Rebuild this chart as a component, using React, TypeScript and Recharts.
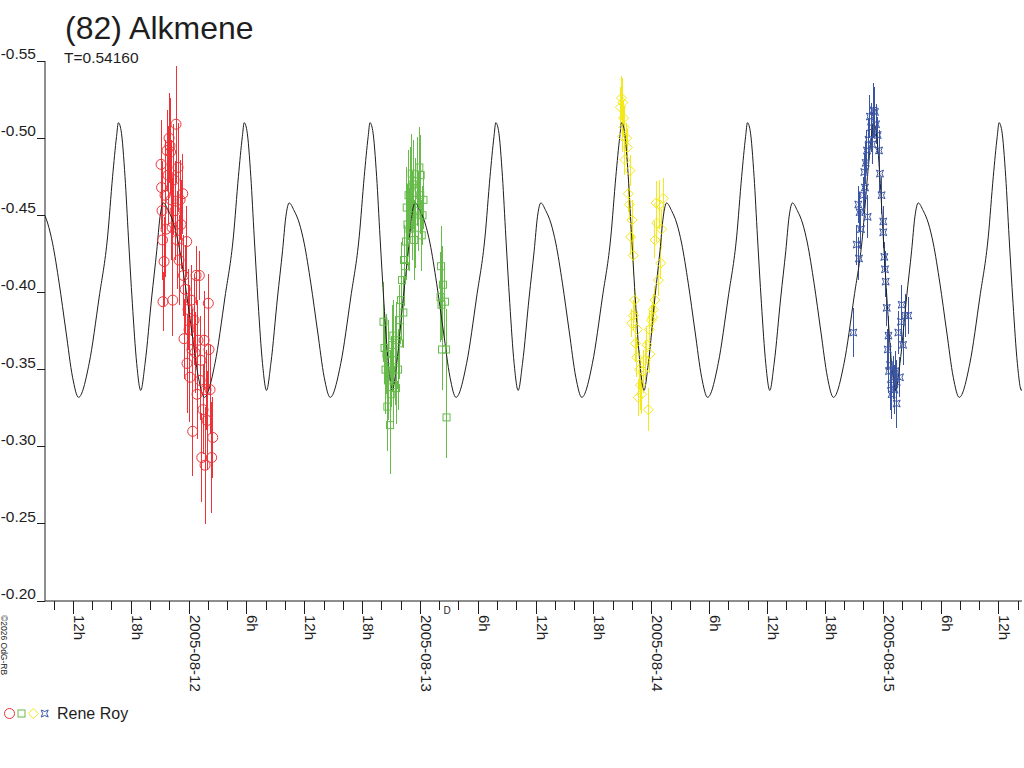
import React from 'react';
import { ComposedChart, Line, Scatter, ErrorBar, XAxis, YAxis } from 'recharts';

// hours since 2005-08-12 00:00 UT, magnitude, error (one list per night)
const night1: number[][] = [
    [-2.90, -0.483, 0.029], [-2.85, -0.468, 0.027], [-2.80, -0.453, 0.032], [-2.75, -0.434, 0.026],
    [-2.70, -0.394, 0.019], [-2.59, -0.420, 0.029], [-2.49, -0.463, 0.036], [-2.39, -0.441, 0.031],
    [-2.28, -0.492, 0.026], [-2.18, -0.476, 0.032], [-2.07, -0.500, 0.029], [-1.97, -0.495, 0.031],
    [-1.92, -0.491, 0.027], [-1.87, -0.460, 0.039], [-1.76, -0.442, 0.032], [-1.69, -0.395, 0.023],
    [-1.56, -0.473, 0.036], [-1.45, -0.453, 0.032], [-1.35, -0.509, 0.038], [-1.24, -0.434, 0.032],
    [-1.14, -0.481, 0.029], [-1.04, -0.421, 0.029], [-0.93, -0.460, 0.026], [-0.83, -0.444, 0.029],
    [-0.65, -0.464, 0.026], [-0.57, -0.411, 0.026], [-0.52, -0.370, 0.026], [-0.41, -0.402, 0.029],
    [-0.24, -0.433, 0.023], [-0.21, -0.354, 0.032], [-0.10, -0.389, 0.026], [0.00, -0.376, 0.029],
    [0.10, -0.345, 0.029], [0.21, -0.395, 0.023], [0.31, -0.363, 0.026], [0.38, -0.310, 0.029],
    [0.52, -0.382, 0.029], [0.62, -0.361, 0.026], [0.73, -0.411, 0.019], [0.83, -0.334, 0.029],
    [0.93, -0.369, 0.026], [1.07, -0.411, 0.016], [1.14, -0.343, 0.026], [1.24, -0.356, 0.029],
    [1.32, -0.293, 0.029], [1.45, -0.324, 0.029], [1.56, -0.369, 0.032], [1.66, -0.288, 0.038],
    [1.76, -0.337, 0.026], [1.87, -0.317, 0.032], [2.00, -0.393, 0.019], [2.07, -0.363, 0.026],
    [2.18, -0.337, 0.029], [2.35, -0.293, 0.036], [2.46, -0.306, 0.026],
];

const night2: number[][] = [
    [20.17, -0.381, 0.026], [20.28, -0.364, 0.023], [20.38, -0.350, 0.029], [20.48, -0.360, 0.026],
    [20.57, -0.326, 0.029], [20.64, -0.343, 0.026], [20.74, -0.356, 0.026], [20.85, -0.314, 0.032],
    [20.92, -0.334, 0.029], [21.00, -0.349, 0.023], [21.11, -0.366, 0.026], [21.19, -0.372, 0.023],
    [21.26, -0.340, 0.026], [21.37, -0.356, 0.029], [21.47, -0.338, 0.023], [21.57, -0.369, 0.025],
    [21.68, -0.350, 0.026], [21.78, -0.367, 0.023], [21.88, -0.382, 0.023], [21.99, -0.395, 0.026],
    [22.09, -0.408, 0.025], [22.23, -0.387, 0.023], [22.30, -0.421, 0.023], [22.40, -0.417, 0.026],
    [22.51, -0.433, 0.025], [22.58, -0.455, 0.026], [22.66, -0.444, 0.026], [22.77, -0.463, 0.029],
    [22.87, -0.441, 0.027], [22.97, -0.468, 0.026], [23.10, -0.477, 0.026], [23.18, -0.450, 0.029],
    [23.26, -0.470, 0.029], [23.36, -0.434, 0.026], [23.44, -0.442, 0.026], [23.54, -0.460, 0.027],
    [23.65, -0.472, 0.029], [23.75, -0.453, 0.026], [23.89, -0.481, 0.026], [23.98, -0.463, 0.025],
    [24.03, -0.476, 0.026], [24.14, -0.437, 0.023], [24.22, -0.450, 0.019], [24.32, -0.460, 0.019],
    [26.09, -0.397, 0.029], [26.14, -0.417, 0.026], [26.19, -0.392, 0.023], [26.24, -0.363, 0.026],
    [26.34, -0.405, 0.025], [26.55, -0.394, 0.025], [26.66, -0.363, 0.026], [26.71, -0.319, 0.026],
];

const night3: number[][] = [
    [44.75, -0.520, 0.013], [44.86, -0.526, 0.014], [44.98, -0.523, 0.016], [45.07, -0.513, 0.012],
    [44.98, -0.501, 0.010], [45.12, -0.507, 0.013], [45.22, -0.486, 0.010], [45.40, -0.500, 0.010],
    [45.48, -0.494, 0.012], [45.56, -0.464, 0.012], [45.67, -0.457, 0.010], [45.74, -0.479, 0.010],
    [45.81, -0.436, 0.012], [45.95, -0.447, 0.013], [46.08, -0.424, 0.013], [46.08, -0.385, 0.010],
    [45.92, -0.380, 0.009], [46.21, -0.395, 0.012], [46.31, -0.367, 0.012], [46.44, -0.358, 0.013],
    [46.52, -0.376, 0.012], [46.60, -0.332, 0.012], [46.71, -0.350, 0.013], [46.83, -0.340, 0.016],
    [46.95, -0.334, 0.013], [47.09, -0.349, 0.014], [47.30, -0.356, 0.013], [47.50, -0.366, 0.012],
    [47.64, -0.324, 0.014], [47.74, -0.376, 0.012], [47.81, -0.360, 0.012], [47.97, -0.382, 0.010],
    [48.10, -0.384, 0.010], [48.16, -0.389, 0.010], [48.33, -0.395, 0.009], [48.33, -0.434, 0.012],
    [48.44, -0.458, 0.014], [48.51, -0.445, 0.012], [48.68, -0.408, 0.010], [48.78, -0.457, 0.016],
    [48.93, -0.419, 0.010], [49.01, -0.441, 0.013], [49.19, -0.461, 0.013],
];

const night4: number[][] = [
    [68.90, -0.374, 0.016], [69.25, -0.431, 0.013], [69.42, -0.457, 0.012], [69.49, -0.422, 0.014],
    [69.56, -0.452, 0.013], [69.70, -0.441, 0.013], [69.91, -0.463, 0.012], [70.04, -0.478, 0.012],
    [70.11, -0.468, 0.013], [70.19, -0.484, 0.014], [70.32, -0.492, 0.013], [70.39, -0.449, 0.014],
    [70.48, -0.499, 0.014], [70.63, -0.514, 0.014], [70.74, -0.507, 0.016], [70.87, -0.496, 0.013],
    [71.00, -0.518, 0.018], [71.15, -0.517, 0.016], [71.26, -0.509, 0.013], [71.43, -0.502, 0.012],
    [71.57, -0.492, 0.013], [71.67, -0.477, 0.012], [71.83, -0.463, 0.012], [72.01, -0.446, 0.010],
    [72.01, -0.439, 0.010], [72.12, -0.423, 0.010], [72.19, -0.415, 0.012], [72.26, -0.407, 0.010],
    [72.37, -0.390, 0.012], [72.47, -0.363, 0.013], [72.55, -0.372, 0.013], [72.60, -0.349, 0.014],
    [72.71, -0.353, 0.014], [72.81, -0.340, 0.016], [72.88, -0.334, 0.016], [73.05, -0.345, 0.014],
    [73.17, -0.337, 0.016], [73.28, -0.349, 0.013], [73.40, -0.342, 0.014], [73.40, -0.328, 0.016],
    [73.57, -0.374, 0.014], [73.74, -0.345, 0.013], [73.85, -0.381, 0.014], [73.92, -0.392, 0.013],
    [74.06, -0.366, 0.013], [74.27, -0.385, 0.014], [74.60, -0.385, 0.012],
];

// one cycle of the fitted lightcurve, hours after the bright maximum
const profileOffsets = [0, 0.28, 0.69, 1.04, 1.45, 1.90, 2.32, 2.77, 3.46, 3.98, 4.32, 4.67, 5.18, 5.71,
    6.22, 6.91, 7.61, 8.30, 8.92, 10.02, 11.06, 11.93, 12.45, 12.86];
const profileMags = [-0.510, -0.505, -0.475, -0.436, -0.393, -0.354, -0.3365, -0.354, -0.397, -0.427, -0.449,
    -0.458, -0.453, -0.445, -0.432, -0.406, -0.375, -0.345, -0.332, -0.354, -0.397, -0.436, -0.475, -0.501];
const curvePeriod = 13.05;
const curveEpoch = -7.33;

const dayLabels = ['2005-08-12', '2005-08-13', '2005-08-14', '2005-08-15'];
const yTicks = [-0.55, -0.5, -0.45, -0.4, -0.35, -0.3, -0.25, -0.2];
const xTicks: number[] = [];
for (let h = -14; h <= 86; h += 2) xTicks.push(h);

const toPoints = (rows: number[][]) => rows.map(([h, m, e]) => ({ h, m, e }));

const curveData: { h: number; m: number }[] = [];
for (let k = -1; k <= 8; k++) {
    profileOffsets.forEach((o, i) => curveData.push({ h: curveEpoch + k * curvePeriod + o, m: profileMags[i] }));
}

const RED = '#ee3338';
const GREEN = '#66bb4a';
const YELLOW = '#f2e81a';
const BLUE = '#3b55a5';
const INK = '#1e1e1e';
const FONT = '"Liberation Sans", Arial, sans-serif';

const circle = (p: any) => <circle cx={p.cx} cy={p.cy} r={5} fill="none" stroke={RED} strokeWidth={1} />;
const square = (p: any) => <rect x={p.cx - 3.5} y={p.cy - 3.5} width={7} height={7} fill="none" stroke={GREEN} strokeWidth={1} />;
const diamond = (p: any) => (
    <path d={`M${p.cx},${p.cy - 5}L${p.cx + 5},${p.cy}L${p.cx},${p.cy + 5}L${p.cx - 5},${p.cy}Z`} fill="none" stroke={YELLOW} strokeWidth={1} />
);
const starPath = (cx: number, cy: number) =>
    `M${cx - 3.5},${cy - 3.5}L${cx},${cy - 2}L${cx + 3.5},${cy - 3.5}L${cx + 2},${cy}L${cx + 3.5},${cy + 3.5}L${cx},${cy + 2}L${cx - 3.5},${cy + 3.5}L${cx - 2},${cy}Z`;
const star = (p: any) => <path d={starPath(p.cx, p.cy)} fill="none" stroke={BLUE} strokeWidth={1} />;

const XTick = (props: any) => {
    const { x, payload } = props;
    const h: number = payload.value;
    const major = h % 6 === 0;
    const label = h % 24 === 0 ? dayLabels[h / 24] : `${((h % 24) + 24) % 24}h`;
    return (
        <g>
            <line x1={x} x2={x} y1={601} y2={major ? 614 : 610} stroke={INK} shapeRendering="crispEdges" />
            {major && (
                <text x={x + 0.5} y={615} transform={`rotate(90 ${x + 0.5} 615)`} fontSize={15} fontFamily={FONT} fill={INK}>
                    {label}
                </text>
            )}
        </g>
    );
};

const YTick = (props: any) => {
    const { y, payload } = props;
    return (
        <g>
            <line x1={37} x2={45} y1={y} y2={y} stroke={INK} shapeRendering="crispEdges" />
            <text x={36} y={y - 2} textAnchor="end" fontSize={15.5} fontFamily={FONT} fill={INK}>
                {payload.value.toFixed(2)}
            </text>
        </g>
    );
};

export default function App() {
    return (
        <div style={{ position: 'absolute', left: 0, top: 0, width: 1024, height: 768, background: '#fff' }}>
            <ComposedChart width={1024} height={768} margin={{ top: 61, right: 2, bottom: 67, left: 0 }}>
                <XAxis
                    type="number"
                    dataKey="h"
                    domain={[-14.94, 86.4]}
                    allowDataOverflow
                    ticks={xTicks}
                    interval={0}
                    tick={<XTick />}
                    tickLine={false}
                    height={100}
                    stroke={INK}
                />
                <YAxis
                    type="number"
                    dataKey="m"
                    domain={[-0.55, -0.2]}
                    reversed
                    allowDataOverflow
                    ticks={yTicks}
                    interval={0}
                    tick={<YTick />}
                    tickLine={false}
                    width={45}
                    stroke={INK}
                />
                <Scatter data={toPoints(night1)} shape={circle} isAnimationActive={false}>
                    <ErrorBar dataKey="e" direction="y" width={0} stroke={RED} strokeWidth={1} shapeRendering="crispEdges" />
                </Scatter>
                <Scatter data={toPoints(night2)} shape={square} isAnimationActive={false}>
                    <ErrorBar dataKey="e" direction="y" width={0} stroke={GREEN} strokeWidth={1} shapeRendering="crispEdges" />
                </Scatter>
                <Scatter data={toPoints(night3)} shape={diamond} isAnimationActive={false}>
                    <ErrorBar dataKey="e" direction="y" width={0} stroke={YELLOW} strokeWidth={1} shapeRendering="crispEdges" />
                </Scatter>
                <Scatter data={toPoints(night4)} shape={star} isAnimationActive={false}>
                    <ErrorBar dataKey="e" direction="y" width={0} stroke={BLUE} strokeWidth={1} shapeRendering="crispEdges" />
                </Scatter>
                <Line data={curveData} dataKey="m" type="monotone" dot={false} stroke={INK} strokeWidth={1} isAnimationActive={false} />
            </ComposedChart>
            <svg width={1024} height={768} style={{ position: 'absolute', left: 0, top: 0, pointerEvents: 'none' }}>
                <text x={65} y={39} fontSize={32} fontFamily={FONT} fill={INK}>(82) Alkmene</text>
                <text x={64} y={63} fontSize={15.5} fontFamily={FONT} fill={INK}>T=0.54160</text>
                <text x={1} y={615} transform="rotate(90 1 615)" fontSize={8.5} fontFamily={FONT} fill={INK}>©2026 OdG-RB</text>
                <text x={443.5} y={613.5} fontSize={10} fontFamily={FONT} fill={INK}>D</text>
                <circle cx={9.5} cy={713.5} r={5} fill="none" stroke={RED} />
                <rect x={18} y={710} width={7} height={7} fill="none" stroke={GREEN} />
                <path d="M33.3,708.5L38.3,713.5L33.3,718.5L28.3,713.5Z" fill="none" stroke={YELLOW} />
                <path d={starPath(44.7, 713.5)} fill="none" stroke={BLUE} />
                <text x={57} y={718.5} fontSize={16} fontFamily={FONT} fill={INK}>Rene Roy</text>
            </svg>
        </div>
    );
}
